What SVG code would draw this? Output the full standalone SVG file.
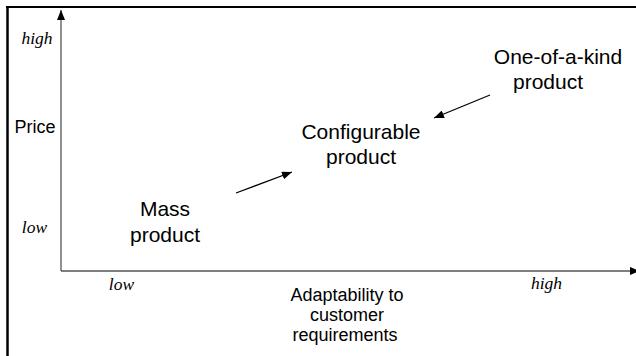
<svg xmlns="http://www.w3.org/2000/svg" width="636" height="356" viewBox="0 0 636 356">
<style>
.s{font-family:"Liberation Sans",Arial,sans-serif;font-size:21px;fill:#000;text-anchor:middle}
.a{font-family:"Liberation Sans",Arial,sans-serif;font-size:18px;fill:#000;text-anchor:middle}
.i{font-family:"Liberation Serif","Times New Roman",serif;font-style:italic;font-size:17.5px;fill:#000;text-anchor:middle}
.ax{stroke:#555;stroke-width:1.3;fill:none}
.ar{stroke:#000;stroke-width:1.2;fill:none}
</style>
<defs>
<marker id="ah" viewBox="0 0 10 8" refX="10" refY="4" markerWidth="10" markerHeight="8" markerUnits="userSpaceOnUse" orient="auto">
<path d="M0,0 L10,4 L0,8 Z" fill="#000"/>
</marker>
</defs>
<rect width="636" height="356" fill="#fff"/>
<g id="frame">
<line x1="7.5" y1="6" x2="7.5" y2="356" stroke="#000" stroke-width="2.5"/>
<line x1="6" y1="7" x2="636" y2="7" stroke="#000" stroke-width="2"/>
</g>
<g id="axes">
<line class="ax" x1="61" y1="271" x2="61" y2="10" marker-end="url(#ah)"/>
<line class="ax" x1="61" y1="271" x2="640" y2="271" marker-end="url(#ah)"/>
</g>
<g id="axis-labels">
<text class="i" x="37" y="44">high</text>
<text class="a" x="35" y="133">Price</text>
<text class="i" x="34.5" y="233">low</text>
<text class="i" x="121.5" y="290">low</text>
<text class="i" x="546.5" y="289">high</text>
<text class="a" x="347" y="301">Adaptability to</text>
<text class="a" x="347" y="321">customer</text>
<text class="a" x="345" y="341">requirements</text>
</g>
<g id="mass-product">
<text class="s" x="165" y="216">Mass</text>
<text class="s" x="165" y="242">product</text>
</g>
<g id="configurable-product">
<text class="s" x="361" y="139">Configurable</text>
<text class="s" x="361" y="164">product</text>
</g>
<g id="one-of-a-kind-product">
<text class="s" x="558" y="64">One-of-a-kind</text>
<text class="s" x="548" y="89">product</text>
</g>
<g id="connectors">
<line class="ar" x1="236" y1="193" x2="292" y2="172" marker-end="url(#ah)"/>
<line class="ar" x1="490" y1="95" x2="434" y2="118" marker-end="url(#ah)"/>
</g>
</svg>
